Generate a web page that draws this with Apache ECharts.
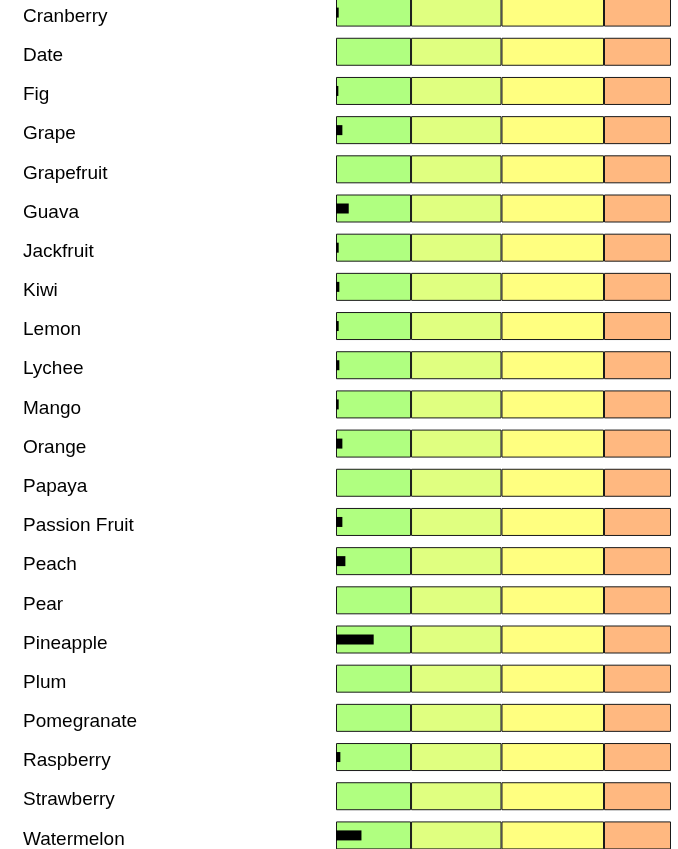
<!DOCTYPE html>
<html>
<head>
<meta charset="utf-8">
<script src="https://cdn.jsdelivr.net/npm/echarts@6/dist/echarts.min.js"></script>
<style>html,body{margin:0;padding:0;background:#fff;}#chart{width:678px;height:849px;}</style>
</head>
<body>
<div id="chart"></div>
<script>
const categories = ["Cranberry","Date","Fig","Grape","Grapefruit","Guava","Jackfruit","Kiwi","Lemon","Lychee","Mango","Orange","Papaya","Passion Fruit","Peach","Pear","Pineapple","Plum","Pomegranate","Raspberry","Strawberry","Watermelon"];
const values = [0.8,0,0.7,1.9,0,3.8,0.8,1.0,0.8,1.0,0.8,1.9,0,1.9,2.8,0,11.25,0,0,1.3,0,7.6];
const rangeLimits = [22.4, 49.4, 80, 100];
const rangeColors = ["#b0ff80", "#e0ff80", "#ffff80", "#ffb880"];

const bandSeries = rangeLimits.map((lim, i) => {
  const w = lim - (i === 0 ? 0 : rangeLimits[i - 1]);
  return {
    type: 'bar',
    stack: 'bands',
    yAxisIndex: 0,
    barWidth: 28,
    silent: true,
    data: categories.map(() => w),
    itemStyle: { color: rangeColors[i], borderColor: '#1a1a1a', borderWidth: 1 }
  };
});

const chart = echarts.init(document.getElementById('chart'));
chart.setOption({
  animation: false,
  grid: { left: 336, right: 7, top: -7, bottom: -6, containLabel: false, outerBoundsMode: 'none' },
  xAxis: { type: 'value', min: 0, max: 100, show: false },
  yAxis: [
    {
      type: 'category', data: categories, inverse: true,
      axisLine: { show: false }, axisTick: { show: false }, splitLine: { show: false },
      axisLabel: {
        align: 'left', margin: 313,
        formatter: v => '{a|' + v + '}',
        rich: { a: { fontSize: 19, color: '#000', padding: [8, 0, 0, 0], fontFamily: 'Liberation Sans, Arial, sans-serif' } }
      }
    },
    {
      type: 'category', data: categories, inverse: true, show: false, position: 'left'
    }
  ],
  series: bandSeries.concat([{
    type: 'bar',
    yAxisIndex: 1,
    barWidth: 10,
    z: 5,
    data: values,
    itemStyle: { color: '#000' }
  }])
});
</script>
</body>
</html>
